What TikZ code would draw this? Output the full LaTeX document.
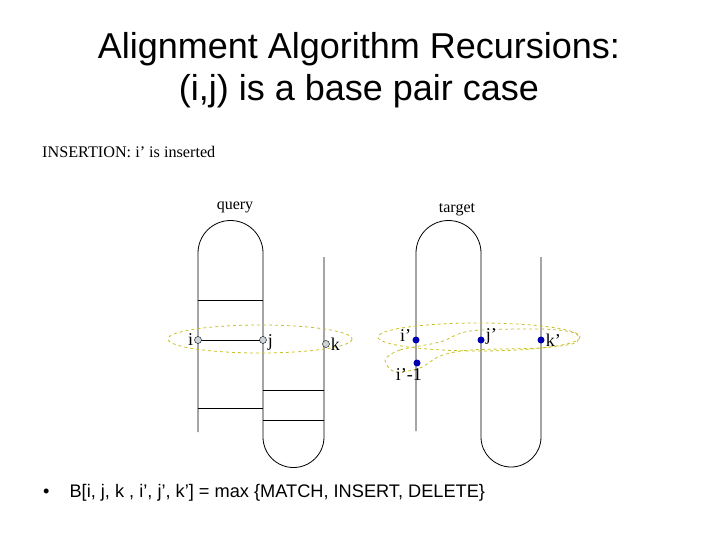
\documentclass[tikz,border=0pt]{standalone}
\usepackage{fontspec}
\setmainfont{Liberation Serif}
\newfontfamily\arial{Liberation Sans}
\begin{document}
\begin{tikzpicture}[x=1pt,y=-1pt,
  strand/.style={line width=0.8pt},
  qdot/.style={circle,draw,fill=cyan!15!gray!40,inner sep=0pt,minimum size=7pt},
  tdot/.style={circle,fill=blue!70!black,inner sep=0pt,minimum size=7pt},
  loop/.style={dashed,draw=olive!60!yellow!80!white,line width=0.8pt},
  lbl/.style={font=\fontsize{18}{18}\selectfont,inner sep=1pt}]
\useasboundingbox (0,0) rectangle (720,540);
\node[font=\arial\fontsize{36}{42}\selectfont,align=center] (title) at (359,70) {Alignment Algorithm Recursions:\\(i,j) is a base pair case};
\node[font=\fontsize{16.2}{16}\selectfont,anchor=west,inner sep=0pt] (ins) at (42,152) {INSERTION: i’ is inserted};
\node[font=\fontsize{16}{16}\selectfont] (q) at (235,207) {query};
\node[font=\fontsize{16}{16}\selectfont] (t) at (457,210) {target};
% query
\draw[strand] (198,432) -- (198,253) arc (180:360:32.5) -- (263,437) arc (180:0:30.5) -- (324,257);
\draw[strand] (198,300) -- (263,300) (198,408) -- (263,408) (263,390) -- (324,390) (263,420) -- (324,420);
\draw[strand] (198,340) -- (263,340);
% target
\draw[strand] (416,431) -- (416,253) arc (180:360:32.5) -- (481,437) arc (180:0:30) -- (541,257);
% loops
\draw[loop] (260,339) ellipse (92 and 14);
\draw[loop] (479,337) ellipse (101 and 14);
\draw[loop] plot[smooth cycle] coordinates {(385,360) (400,350) (440,342) (470,331) (540,329) (575,333) (575,343) (540,348) (470,350) (440,356) (420,368) (395,372)};
\node[qdot] (i) at (198,340) {}; \node[lbl,anchor=east] at (i.west) {i};
\node[qdot] (j) at (263,340) {}; \node[lbl,anchor=west] at ([yshift=-2]j.east) {j};
\node[qdot] (k) at (326,344) {}; \node[lbl,anchor=west] at (k.east) {k};
\node[tdot] (ip) at (416,340) {}; \node[lbl,anchor=east] at ([yshift=4]ip.west) {i’};
\node[tdot] (ipm) at (417,363) {}; \node[lbl,anchor=north east] at ([xshift=6,yshift=-1]ipm.south) {i’-1};
\node[tdot] (jp) at (481,340) {}; \node[lbl,anchor=west] at ([yshift=4]jp.east) {j’};
\node[tdot] (kp) at (541,340) {}; \node[lbl,anchor=west] at (kp.east) {k’};
\node[font=\arial\fontsize{18.2}{18}\selectfont,anchor=west,inner sep=0pt] (b) at (43,493) {•\hspace{20pt}B[i, j, k , i’, j’, k’] = max \{MATCH, INSERT, DELETE\}};
\end{tikzpicture}
\end{document}
